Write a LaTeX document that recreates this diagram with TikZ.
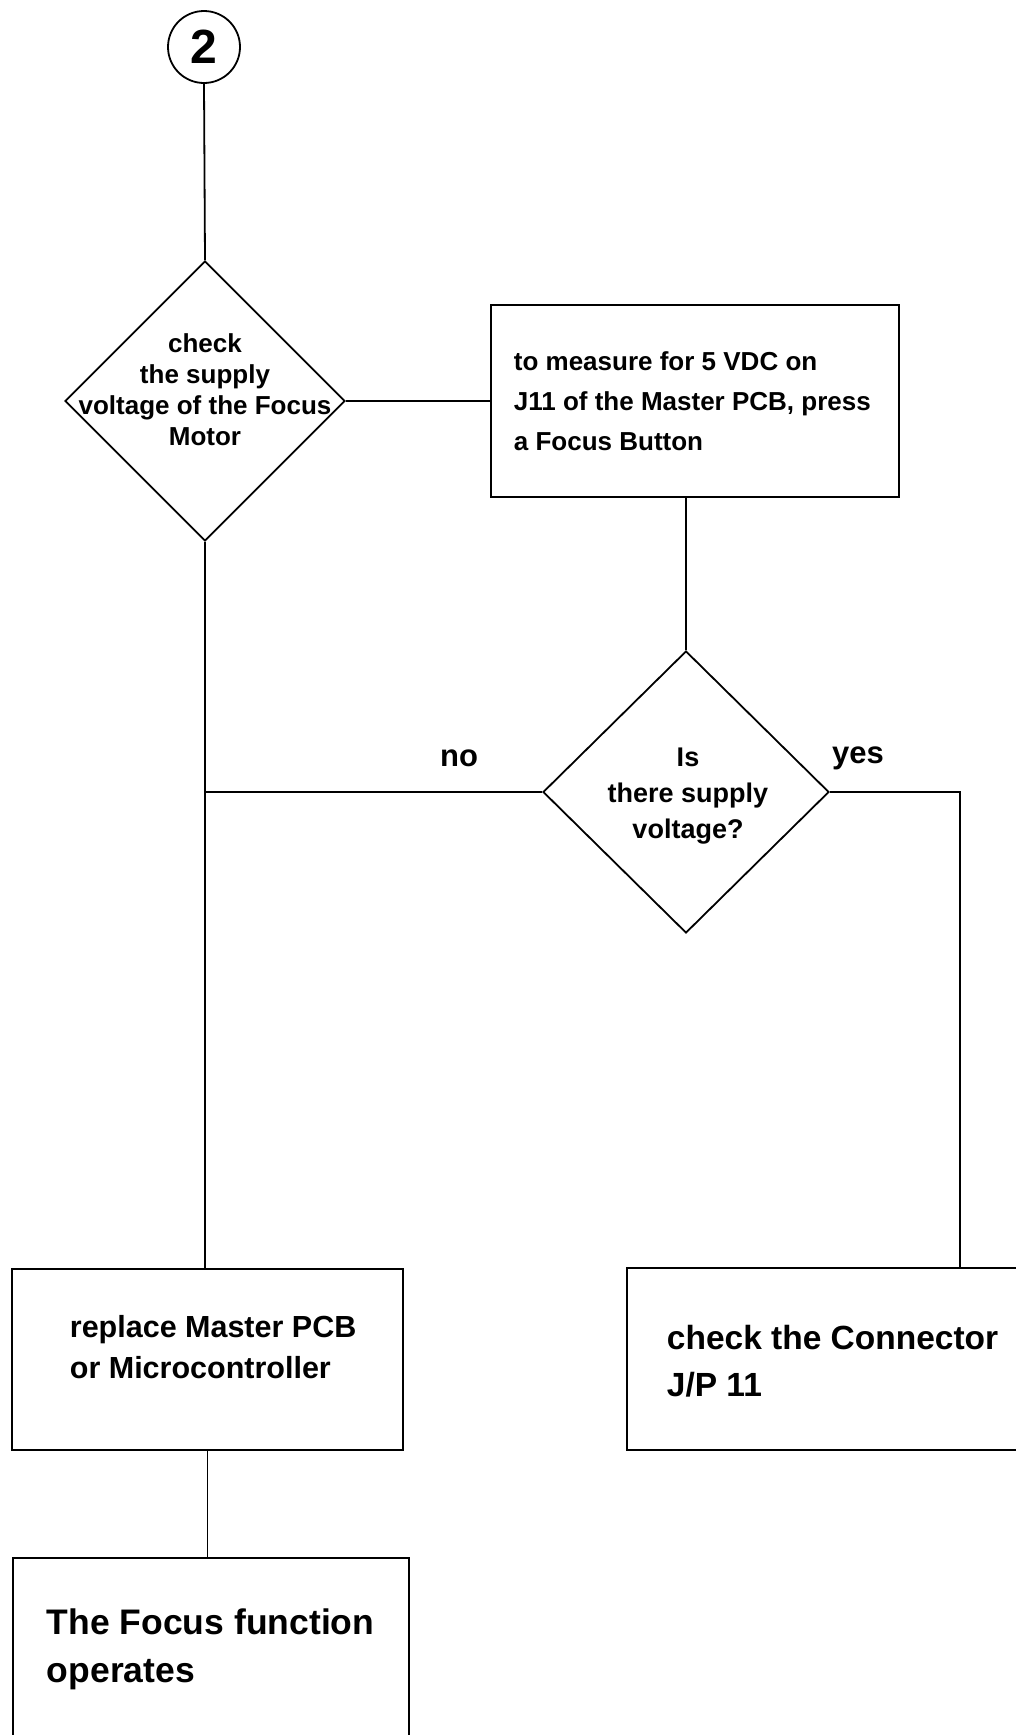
\documentclass[tikz,border=0pt]{standalone}
\usepackage{fontspec}
\setmainfont{Liberation Sans}
\usetikzlibrary{shapes.geometric}
\newcommand{\fsz}[2]{\bfseries\fontsize{#1}{#2}\selectfont}
\begin{document}
\begin{tikzpicture}[x=1pt,y=-1pt,line width=1.8pt,
  boxshape/.style={rectangle,inner sep=0pt,anchor=north west},
  dia/.style={draw,diamond,inner sep=0pt},
  txt/.style={inner sep=0pt}]
\fill[white] (0,0) rectangle (1015,1735);
\useasboundingbox (0,0) rectangle (1015,1735);

% start connector
\node[draw,circle,minimum size=72pt,inner sep=0pt,font=\fsz{48}{48}] (c2) at (204,47) {2};

% decision 1
\node[dia,minimum width=280pt,minimum height=280pt] (d1) at (205,401) {};
\node[txt,align=center,anchor=base,font=\fsz{26}{31}] (t1) at (205,445)
  {check\\the supply\\voltage of the Focus\\Motor};

% box 1
\node[boxshape,draw,minimum width=408pt,minimum height=192pt] (b1) at (490,304) {};
\node[txt,align=left,anchor=base west,font=\fsz{26}{40}] (t2) at (513,450)
  {to measure for 5 VDC on\\J11 of the Master PCB, press\\a Focus Button};

% decision 2
\node[dia,minimum width=286pt,minimum height=282pt] (d2) at (686,792) {};
\node[txt,align=center,anchor=base,font=\fsz{27}{36}] (t3) at (688,838)
  {Is\\there supply\\voltage?};
\node[txt,anchor=base,font=\fsz{31}{31}] (no) at (459,766) {no};
\node[txt,anchor=base,font=\fsz{31}{31}] (yes) at (858,763) {yes};

% box replace
\node[boxshape,draw,minimum width=391pt,minimum height=181pt] (b2) at (11,1268) {};
\node[txt,align=left,anchor=base west,font=\fsz{30.5}{41}] (t4) at (69,1378)
  {replace Master PCB\\or Microcontroller};

% box connector (open to the right edge)
\node[boxshape,minimum width=388pt,minimum height=180pt] (b3) at (627,1268) {};
\draw (b3.north east) -- (b3.north west) -- (b3.south west) -- (b3.south east);
\node[txt,align=left,anchor=base west,font=\fsz{33.5}{47}] (t5) at (666,1396)
  {check the Connector\\J/P 11};

% box focus (open at the bottom edge)
\node[boxshape,minimum width=394pt,minimum height=177pt] (b4) at (13,1558) {};
\draw (b4.south west) -- (b4.north west) -- (b4.north east) -- (b4.south east);
\node[txt,align=left,anchor=base west,font=\fsz{35.5}{48}] (t6) at (46,1682)
  {The Focus function\\operates};

% connectors
\coordinate (r) at (960,792);
\draw (c2.south) -- (d1.north);
\draw (d1.east) -- (d1.east -| b1.west);
\draw (d2.north) -- (d2.north |- b1.south);
\draw (d1.south) -- (d1.south |- b2.north);
\draw (d2.west) -- (d2.west -| d1.south);
\draw (d2.east) -- (r) -- (r |- b3.north);
\draw (b2.south) -- (b2.south |- b4.north);
\end{tikzpicture}
\end{document}
